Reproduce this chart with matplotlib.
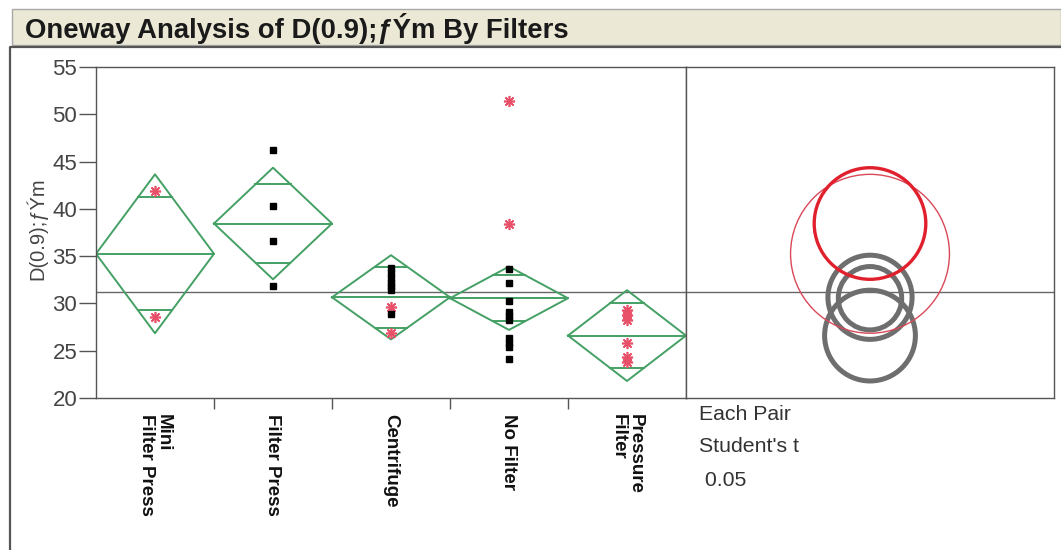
import matplotlib
matplotlib.use("Agg")
import matplotlib.pyplot as plt
from matplotlib.patches import Rectangle, Circle
from matplotlib.lines import Line2D
import matplotlib.transforms as mtransforms

plt.rcParams['font.family'] = ['Liberation Sans', 'DejaVu Sans']

# ---------------- data ----------------
title = "Oneway Analysis of D(0.9);ƒÝm By Filters"
y_label = "D(0.9);ƒÝm"
categories = ["Mini\nFilter Press", "Filter Press", "Centrifuge", "No Filter", "Pressure\nFilter"]
group_means = [35.25, 38.45, 30.65, 30.55, 26.6]
ci_half = [8.4, 5.9, 4.45, 3.35, 4.8]
overlap_hi = [41.3, 42.6, 33.9, 33.0, 30.0]
overlap_lo = [29.3, 34.3, 27.4, 28.1, 23.2]
grand_mean = 31.2
red_points = [
    [41.9, 28.6],
    [],
    [29.6, 26.9],
    [51.4, 38.4],
    [29.3, 28.8, 28.2, 25.8, 24.3, 23.8],
]
black_points = [
    [],
    [46.2, 40.35, 36.6, 31.8],
    [33.7, 33.2, 32.7, 32.2, 31.8, 31.4, 28.9],
    [33.6, 32.2, 30.3, 29.1, 28.7, 28.2, 26.3, 25.8, 25.4, 24.1],
    [],
]
circle_style = ["thin_red", "thick_red", "gray", "gray", "gray"]
y_ticks = [20, 25, 30, 35, 40, 45, 50, 55]
legend_lines = ["Each Pair", "Student's t", " 0.05"]

# ---------------- layout ----------------
W, H = 1061, 550
fig = plt.figure(figsize=(W / 100, H / 100), dpi=100)
fig.patch.set_facecolor('white')

def fx(px):
    return px / W

def fy(py):
    return 1 - py / H

# title bar
fig.patches.append(Rectangle((fx(12), fy(45)), fx(1061) - fx(12), (45 - 9) / H,
                             transform=fig.transFigure, facecolor='#ebe9d5',
                             edgecolor='#a8a8a8', lw=1, zorder=0))
fig.lines.append(Line2D([fx(10), fx(10), fx(1061)], [fy(550), fy(47), fy(47)],
                        transform=fig.transFigure, color='#555555', lw=1.6))
fig.text(fx(25), fy(28), title, fontsize=19.8, fontweight='bold', color='#1a1a1a',
         va='center', ha='left')

green = '#44a064'
axis_col = '#555555'

ax = fig.add_axes([fx(96), fy(398), fx(686) - fx(96), (398 - 67) / H])
ax.set_xlim(0, 5)
ax.set_ylim(20, 55)
ax.set_yticks(y_ticks)
ax.set_xticks([1, 2, 3, 4])
ax.set_xticklabels([])
ax.tick_params(axis='y', direction='out', length=12, width=1, color=axis_col,
               labelsize=16, labelcolor='#444444', pad=1.5)
ax.tick_params(axis='x', direction='out', length=8, width=1, color=axis_col)
for s in ax.spines.values():
    s.set_color(axis_col)
    s.set_linewidth(1)

ax.axhline(grand_mean, color='#666666', lw=1, zorder=1)

for i, (m, h, hi, lo) in enumerate(zip(group_means, ci_half, overlap_hi, overlap_lo)):
    c = i + 0.5
    ax.plot([i, c, i + 1, c, i], [m, m + h, m, m - h, m], color=green, lw=1.4, zorder=2)
    ax.plot([i, i + 1], [m, m], color=green, lw=1.4, zorder=2)
    for o in (hi, lo):
        d = 0.5 * (1 - abs(o - m) / h)
        ax.plot([c - d, c + d], [o, o], color=green, lw=1.4, zorder=2)
    if red_points[i]:
        ax.plot([c] * len(red_points[i]), red_points[i], linestyle='none',
                marker=(8, 2, 0), markersize=8, mew=1.2, color='#e8506a', zorder=3)
    if black_points[i]:
        ax.plot([c] * len(black_points[i]), black_points[i], linestyle='none',
                marker='s', markersize=4, color='black', zorder=3)

trans = mtransforms.blended_transform_factory(ax.transData, fig.transFigure)
for i, lab in enumerate(categories):
    ax.text(i + 0.5, fy(414), lab, transform=trans, rotation=-90, ha='center', va='top',
            multialignment='left', fontsize=13.5, fontweight='bold', color='#111111',
            linespacing=1.0)

fig.text(fx(37), fy(229), y_label, rotation=90, fontsize=14.5, color='#444444',
         ha='center', va='center')

# comparison circles panel
ax2 = fig.add_axes([fx(686), fy(398), fx(1054) - fx(686), (398 - 67) / H])
w_px = (fx(1054) - fx(686)) * W
h_px = (398 - 67)
xspan = 35 * w_px / h_px
ax2.set_xlim(0, xspan)
ax2.set_ylim(20, 55)
ax2.set_xticks([])
ax2.set_yticks([])
for s in ax2.spines.values():
    s.set_color(axis_col)
    s.set_linewidth(1)
ax2.axhline(grand_mean, color='#666666', lw=1, zorder=1)
xc = (870 - 686) / w_px * xspan
styles = {
    "thin_red": dict(ec='#d84858', lw=1.0),
    "thick_red": dict(ec='#e0202c', lw=2.4),
    "gray": dict(ec='#6e6e6e', lw=3.6),
}
order = [k for k in range(len(circle_style)) if circle_style[k] == "gray"] + \
        [k for k in range(len(circle_style)) if circle_style[k] != "gray"]
for k in order:
    ax2.add_patch(Circle((xc, group_means[k]), ci_half[k], fill=False,
                         **styles[circle_style[k]], zorder=3))

for j, (t, py) in enumerate(zip(legend_lines, [415, 447, 481])):
    fig.text(fx(699), fy(py), t, fontsize=15.3, color='#333333', ha='left', va='center')

fig.savefig("out.png", dpi=100)
